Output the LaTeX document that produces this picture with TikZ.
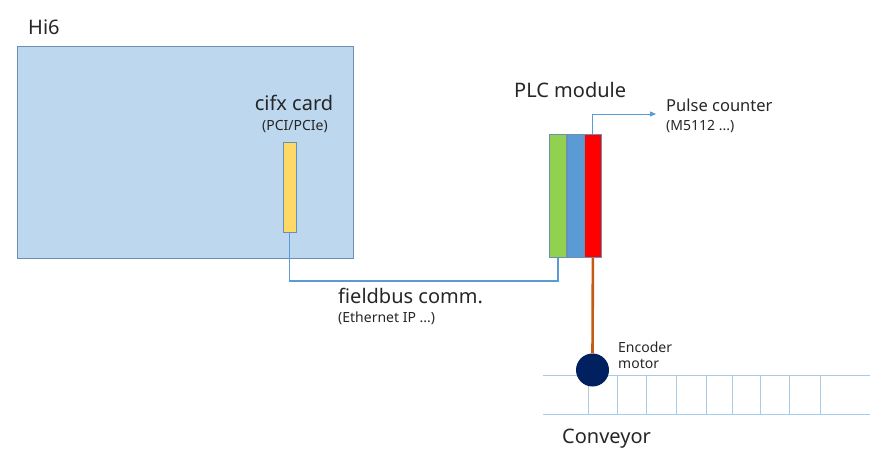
\documentclass[tikz,border=0pt]{standalone}
\usepackage{fontspec}
\setmainfont{Noto Sans}
\usetikzlibrary{arrows.meta}
\definecolor{boxfill}{HTML}{BDD7EE}
\definecolor{boxline}{HTML}{6A8FB5}
\definecolor{linkblue}{HTML}{5B9BD5}
\definecolor{cardyel}{HTML}{FFD966}
\definecolor{modgreen}{HTML}{92D050}
\definecolor{modblue}{HTML}{5B9BD5}
\definecolor{modred}{HTML}{FF0000}
\definecolor{encline}{HTML}{C55A11}
\definecolor{motorcol}{HTML}{002060}
\definecolor{convline}{HTML}{A9CBEA}
\definecolor{txt}{HTML}{262626}
\begin{document}
\begin{tikzpicture}[x=1pt,y=-1pt,
  big/.style={font=\fontsize{20}{24}\selectfont,text=txt,inner sep=0pt,anchor=base west},
  mid/.style={font=\fontsize{16.5}{19}\selectfont,text=txt,inner sep=0pt,anchor=base west},
  small/.style={font=\fontsize{14}{16}\selectfont,text=txt,inner sep=0pt,anchor=base west},
  modpart/.style={draw=boxline,line width=0.8pt,minimum width=17pt,minimum height=123pt,inner sep=0pt,anchor=north west},
  link/.style={draw=linkblue,line width=1.8pt},
  conv/.style={draw=convline,line width=0.9pt}]
\useasboundingbox (0,0) rectangle (880,457);
% Hi6 computer
\node[draw=boxline,fill=boxfill,line width=0.9pt,minimum width=336pt,minimum height=212pt,inner sep=0pt,anchor=north west] (hi6) at (17,46) {};
\node[big] (hi6lbl) at (28,35) {Hi6};
\node[draw=boxline,fill=cardyel,line width=0.8pt,minimum width=13pt,minimum height=90pt,inner sep=0pt,anchor=north west] (card) at (282.5,142) {};
\node[big,anchor=base] (cardlbl) at (294,111) {cifx card};
\node[small,anchor=base] (cardsub) at (295,131) {(PCI/PCIe)};
% PLC module
\node[modpart,fill=modgreen] (green) at (549,134) {};
\node[modpart,fill=modblue] (blue) at (566.5,134) {};
\node[modpart,fill=modred] (red) at (584,134) {};
\node[big] (plclbl) at (514,98) {PLC module};
\node[mid] (pulse) at (666,112) {Pulse counter};
\node[small] (pulsesub) at (666,131) {(M5112 ...)};
\coordinate (pc) at (656,114);
\draw[draw=linkblue,line width=0.9pt,-{Triangle[length=6pt,width=5pt]}] (red.north) -- (red.north |- pc) -- (pc);
% fieldbus
\draw[link] (card.south) -- ++(0,48) -| (green.south);
\node[big] (fb) at (338,303) {fieldbus comm.};
\node[small] (fbsub) at (338,322) {(Ethernet IP ...)};
% conveyor
\draw[conv] (543,375) -- (870,375);
\draw[conv] (543,414) -- (870,414);
\foreach \xx in {588,617,646,676,706,732,760,789,820} {
  \draw[conv] (\xx,375) -- (\xx,414);
}
\node[big] (convlbl) at (562,443) {Conveyor};
% encoder motor
\node[circle,fill=motorcol,minimum size=33pt,inner sep=0pt] (motor) at (592.5,370) {};
\draw[draw=encline,line width=2.6pt] (red.south) -- (motor.north);
\node[small] (enc) at (618,352) {Encoder};
\node[small] (enc2) at (618,368) {motor};
\end{tikzpicture}
\end{document}
